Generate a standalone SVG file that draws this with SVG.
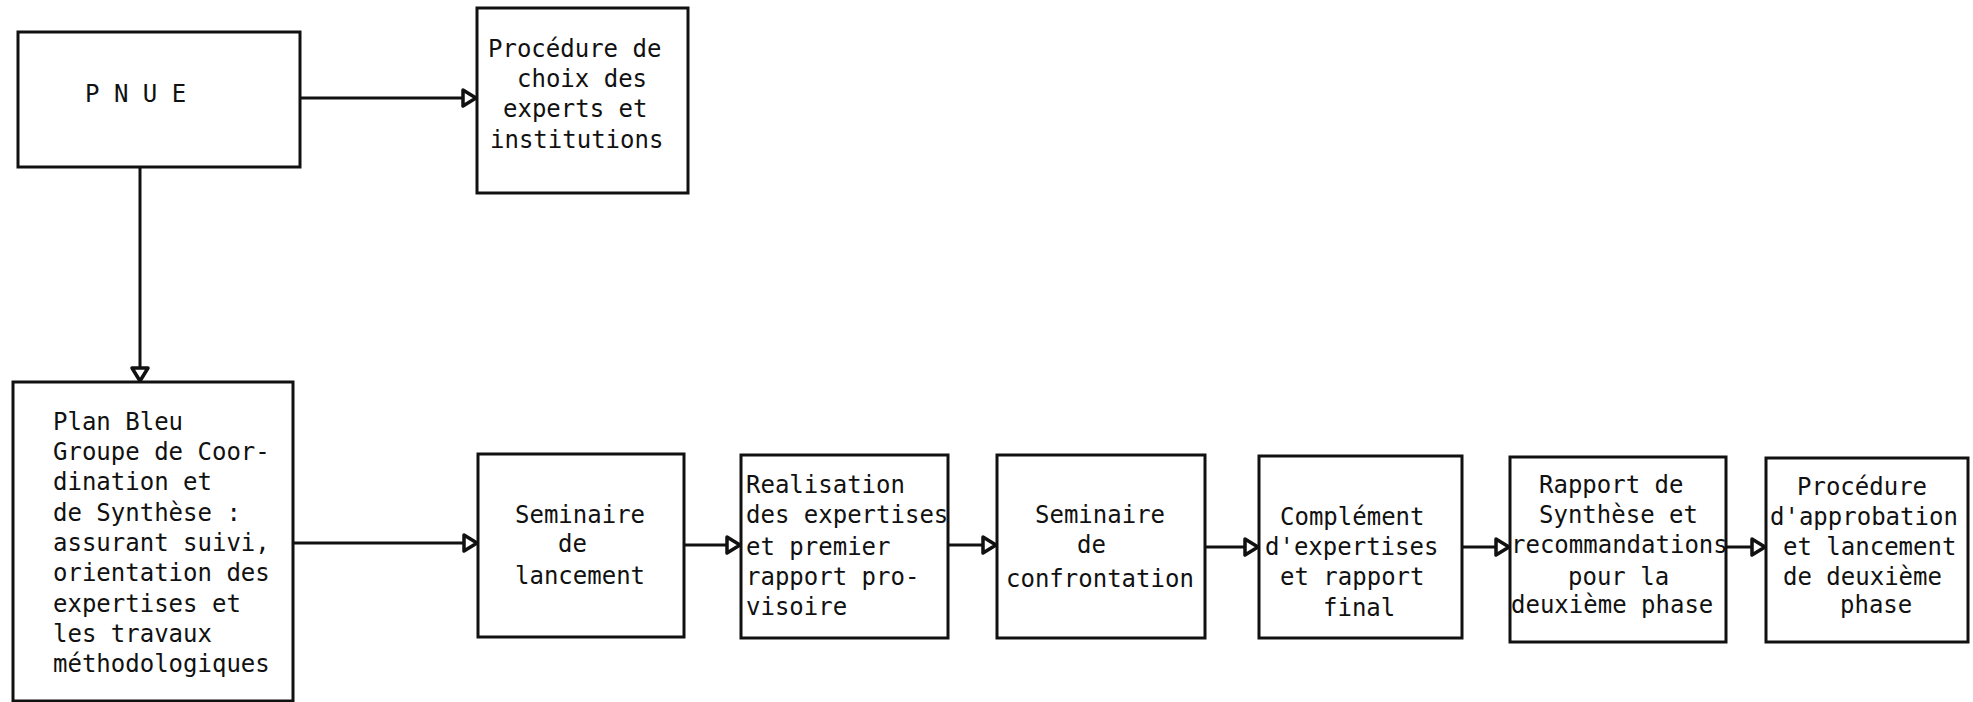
<svg xmlns="http://www.w3.org/2000/svg" width="1973" height="702" viewBox="0 0 1973 702">
<style>
.box{fill:#fff;stroke:#111;stroke-width:3}
.t{font-family:"DejaVu Sans Mono","Liberation Mono",monospace;font-size:24px;fill:#111}
.c{fill:none;stroke:#111;stroke-width:3}
</style>
<defs>
<marker id="ah" markerUnits="userSpaceOnUse" markerWidth="20" markerHeight="22" refX="15" refY="10" orient="auto">
<path d="M2,2 L15,10 L2,18 z" fill="#fff" stroke="#111" stroke-width="3.5" stroke-linejoin="round"/>
</marker>
</defs>
<rect width="1973" height="702" fill="#fff"/>
<g id="connectors">
<line class="c" x1="300" y1="98" x2="476" y2="98" marker-end="url(#ah)"/>
<line class="c" x1="140" y1="167" x2="140" y2="381" marker-end="url(#ah)"/>
<line class="c" x1="293" y1="543" x2="477" y2="543" marker-end="url(#ah)"/>
<line class="c" x1="684" y1="545" x2="740" y2="545" marker-end="url(#ah)"/>
<line class="c" x1="948" y1="545" x2="996" y2="545" marker-end="url(#ah)"/>
<line class="c" x1="1205" y1="547" x2="1258" y2="547" marker-end="url(#ah)"/>
<line class="c" x1="1462" y1="547" x2="1509" y2="547" marker-end="url(#ah)"/>
<line class="c" x1="1726" y1="547" x2="1765" y2="547" marker-end="url(#ah)"/>
</g>
<g id="pnue">
<rect class="box" x="18" y="32" width="282" height="135"/>
<text class="t" x="85" y="102">P N U E</text>
</g>
<g id="procedure-choix">
<rect class="box" x="477" y="8" width="211" height="185"/>
<text class="t" x="488" y="57">Procédure de</text>
<text class="t" x="517" y="87">choix des</text>
<text class="t" x="503" y="117">experts et</text>
<text class="t" x="490" y="148">institutions</text>
</g>
<g id="plan-bleu">
<rect class="box" x="13" y="382" width="280" height="319"/>
<text class="t" x="53" y="430">Plan Bleu</text>
<text class="t" x="53" y="460">Groupe de Coor-</text>
<text class="t" x="53" y="490">dination et</text>
<text class="t" x="53" y="521">de Synthèse :</text>
<text class="t" x="53" y="551">assurant suivi,</text>
<text class="t" x="53" y="581">orientation des</text>
<text class="t" x="53" y="612">expertises et</text>
<text class="t" x="53" y="642">les travaux</text>
<text class="t" x="53" y="672">méthodologiques</text>
</g>
<g id="seminaire-lancement">
<rect class="box" x="478" y="454" width="206" height="183"/>
<text class="t" x="515" y="523">Seminaire</text>
<text class="t" x="558" y="552">de</text>
<text class="t" x="515" y="584">lancement</text>
</g>
<g id="realisation">
<rect class="box" x="741" y="455" width="207" height="183"/>
<text class="t" x="746" y="493">Realisation</text>
<text class="t" x="746" y="523">des expertises</text>
<text class="t" x="746" y="555">et premier</text>
<text class="t" x="746" y="585">rapport pro-</text>
<text class="t" x="746" y="615">visoire</text>
</g>
<g id="seminaire-confrontation">
<rect class="box" x="997" y="455" width="208" height="183"/>
<text class="t" x="1035" y="523">Seminaire</text>
<text class="t" x="1077" y="553">de</text>
<text class="t" x="1006" y="587">confrontation</text>
</g>
<g id="complement">
<rect class="box" x="1259" y="456" width="203" height="182"/>
<text class="t" x="1280" y="525">Complément</text>
<text class="t" x="1265" y="555">d'expertises</text>
<text class="t" x="1280" y="585">et rapport</text>
<text class="t" x="1323" y="616">final</text>
</g>
<g id="rapport-synthese">
<rect class="box" x="1510" y="457" width="216" height="185"/>
<text class="t" x="1539" y="493">Rapport de</text>
<text class="t" x="1539" y="523">Synthèse et</text>
<text class="t" x="1511" y="553">recommandations</text>
<text class="t" x="1568" y="585">pour la</text>
<text class="t" x="1511" y="613">deuxième phase</text>
</g>
<g id="procedure-approbation">
<rect class="box" x="1766" y="458" width="202" height="184"/>
<text class="t" x="1797" y="495">Procédure</text>
<text class="t" x="1770" y="525">d'approbation</text>
<text class="t" x="1783" y="555">et lancement</text>
<text class="t" x="1783" y="585">de deuxième</text>
<text class="t" x="1840" y="613">phase</text>
</g>
</svg>
